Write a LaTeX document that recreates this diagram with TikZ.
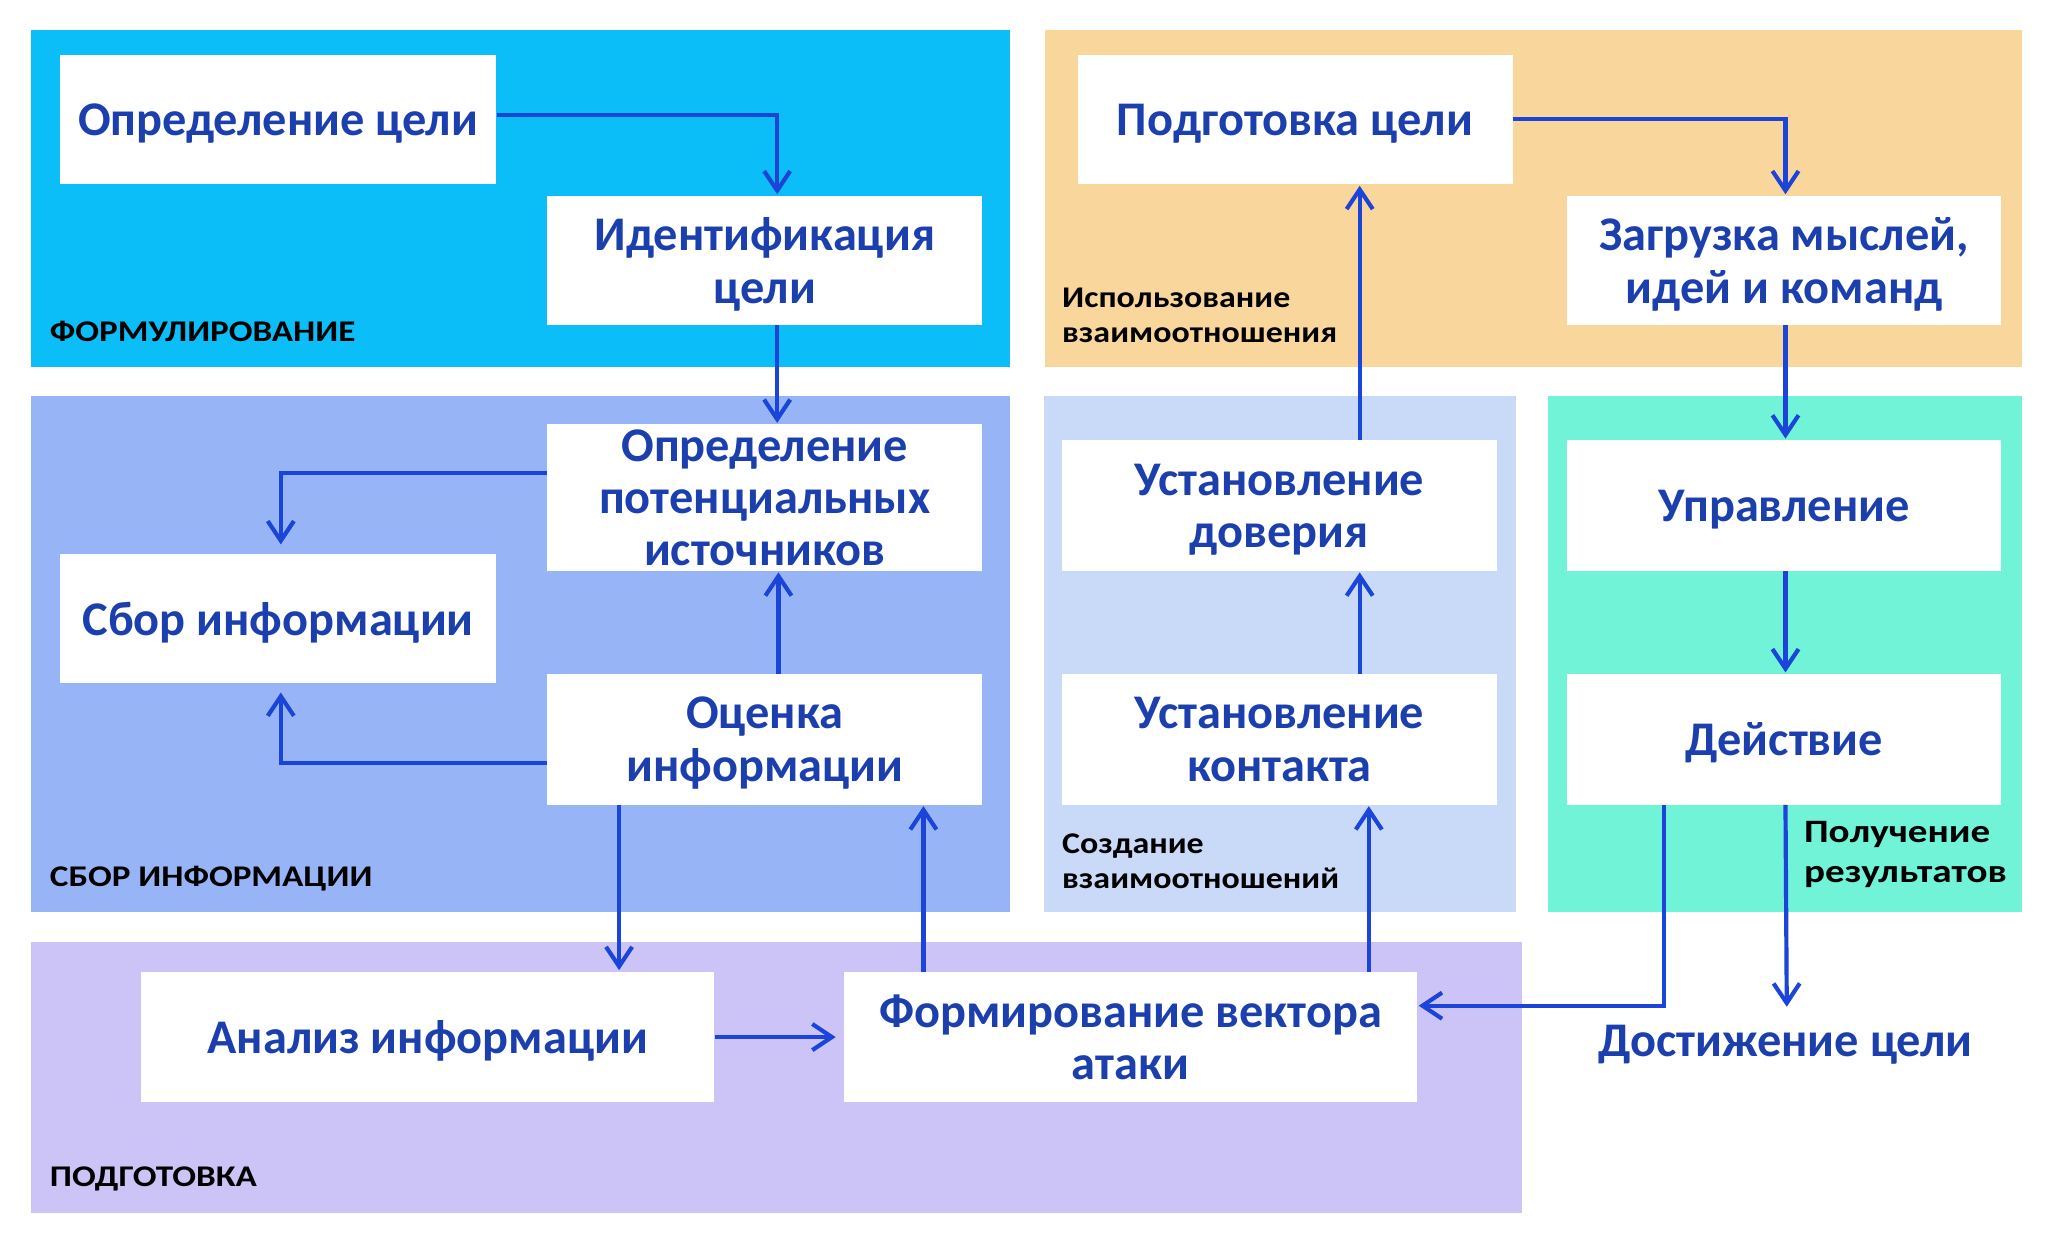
\documentclass[tikz,border=0pt]{standalone}
\usepackage{fontspec}
\setmainfont{Carlito}
\usetikzlibrary{arrows.meta,calc}
\definecolor{pcyan}{HTML}{0BBEF7}
\definecolor{porange}{HTML}{F9D79C}
\definecolor{pblue}{HTML}{97B5F6}
\definecolor{plblue}{HTML}{C9DAF8}
\definecolor{pgreen}{HTML}{70F3D7}
\definecolor{plav}{HTML}{CCC4F7}
\definecolor{txtblue}{HTML}{1C3FAE}
\definecolor{arrblue}{HTML}{1B45D8}
\begin{document}
\begin{tikzpicture}[x=1pt,y=-1pt,
  box/.style={fill=white,draw=none,minimum width=333pt,minimum height=99pt,
    align=center,text=txtblue,font=\fontsize{37}{40}\selectfont\bfseries,inner sep=0pt,text depth=0pt},
  plabel/.style={anchor=west,text=black,font=\fontsize{23}{26}\selectfont\bfseries,inner sep=0pt,xscale=1.17,transform shape},
  slabel/.style={anchor=north west,align=left,text=black,font=\fontsize{23}{27}\selectfont\bfseries,inner sep=0pt,xscale=1.13,transform shape},
  conn/.style={draw=arrblue,line width=3.2pt,-{Straight Barb[length=15pt,width=20pt]},shorten >=1pt}
]
\useasboundingbox[fill=white] (0,0) rectangle (1568,952);
% panels
\fill[pcyan]  (24,23) rectangle (773,281);
\fill[porange] (800,23) rectangle (1548,281);
\fill[pblue]  (24,303) rectangle (773,698);
\fill[plblue] (799,303) rectangle (1161,698);
\fill[pgreen] (1185,303) rectangle (1548,698);
\fill[plav]   (24,721) rectangle (1165,929);
% panel labels
\node[plabel] (l1) at (38,254) {ФОРМУЛИРОВАНИЕ};
\node[plabel] (l2) at (38,673) {СБОР ИНФОРМАЦИИ};
\node[plabel] (l3) at (38,903) {ПОДГОТОВКА};
\node[slabel] (l4) at (813,220) {Использование\\взаимоотношения};
\node[slabel] (l5) at (813,638) {Создание\\взаимоотношений};
\node[slabel,font=\fontsize{25}{30}\selectfont\bfseries,xscale=1.06] (l6) at (1381,629) {Получение\\результатов};
% boxes
\node[box,minimum width=334pt] (def) at (213,91.5) {Определение цели};
\node[box] (ident) at (585.5,199.5) {Идентификация\\цели};
\node[box,minimum height=112pt] (potent) at (585.5,381) {Определение\\потенциальных\\источников};
\node[box,minimum width=334pt] (sbor) at (213,473.5) {Сбор информации};
\node[box,minimum height=100pt] (ocenka) at (585.5,566) {Оценка\\информации};
\node[box,minimum width=439pt,minimum height=100pt] (analiz) at (327.5,794) {Анализ информации};
\node[box,minimum width=439pt,minimum height=100pt] (form) at (865.5,794) {Формирование вектора\\атаки};
\node[box] (podg) at (991.5,91.5) {Подготовка цели};
\node[box,minimum width=332pt] (zagr) at (1366,199.5) {Загрузка мыслей,\\идей и команд};
\node[box,minimum height=100pt] (dov) at (979.5,387) {Установление\\доверия};
\node[box,minimum height=100pt] (kont) at (979.5,566) {Установление\\контакта};
\node[box,minimum width=332pt,minimum height=100pt] (upr) at (1366,387) {Управление};
\node[box,minimum width=332pt,minimum height=100pt] (dei) at (1366,566) {Действие};
\node[box,fill=none,minimum width=0pt,minimum height=50pt] (dost) at (1367,797) {Достижение цели};
% connectors
\draw[conn] ([yshift=3.5pt]def.east) -| ([xshift=9.5pt]ident.north);
\draw[conn] ([xshift=9.5pt]ident.south) -- ([xshift=9.5pt]potent.north);
\draw[conn,shorten >=7pt] ([yshift=19pt]potent.west) -| ([xshift=2pt]sbor.north);
\draw[conn,shorten >=7pt] ([yshift=-18pt]ocenka.west) -| ([xshift=2pt]sbor.south);
\draw[conn] ([xshift=10.5pt]ocenka.north) -- ([xshift=10.5pt]potent.south);
\draw[conn] ([xshift=-111.5pt]ocenka.south) -- ([xshift=-111.5pt]ocenka.south |- analiz.north);
\draw[conn] ([xshift=-158.5pt]form.north) -- ([xshift=-158.5pt]form.north |- ocenka.south);
\draw[conn,shorten >=6pt] (analiz.east) -- (form.west);
\draw[conn] ([xshift=182.5pt]form.north) -- ([xshift=182.5pt]form.north |- kont.south);
\draw[conn] ([xshift=61.5pt]kont.north) -- ([xshift=61.5pt]dov.south);
\draw[conn] ([xshift=61.5pt]dov.north) -- ([xshift=61.5pt]dov.north |- podg.south);
\draw[conn] ([yshift=0.5pt]podg.east) -| ([xshift=1pt]zagr.north);
\draw[conn] ([xshift=1pt]zagr.south) -- ([xshift=1pt]upr.north);
\draw[conn] ([xshift=1pt]upr.south) -- ([xshift=1pt]dei.north);
\draw[conn] ([xshift=1pt]dei.south) -- ([xshift=1pt]dost.north);
\draw[conn] ([xshift=-92pt]dei.south) |- ([yshift=24pt]form.east);
\end{tikzpicture}
\end{document}
